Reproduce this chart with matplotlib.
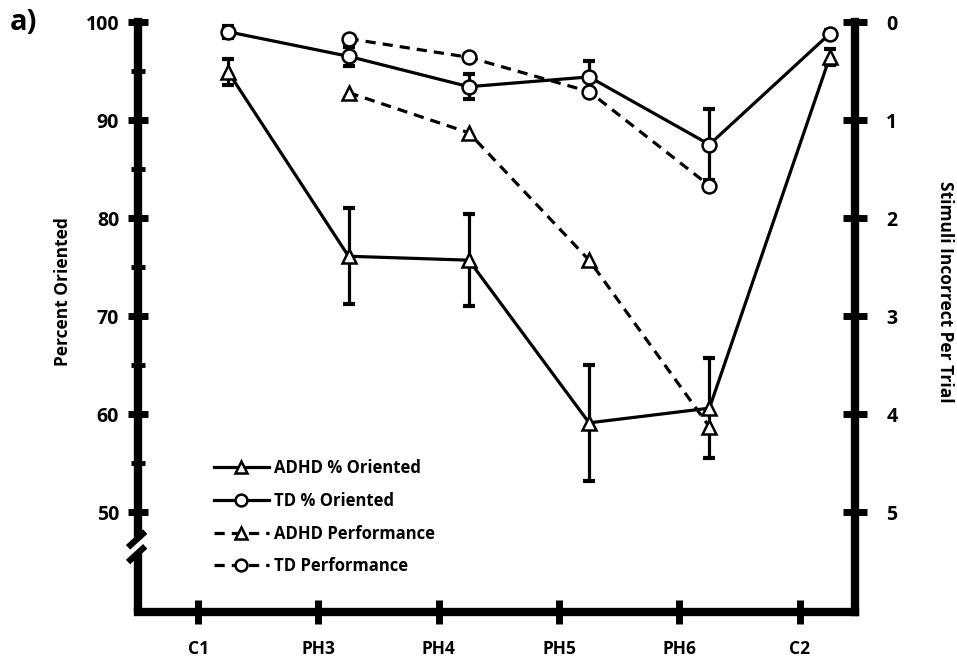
import matplotlib.pyplot as plt
from matplotlib.ticker import MultipleLocator

plt.rcParams['font.family'] = ['Open Sans', 'DejaVu Sans']
plt.rcParams['font.weight'] = 'bold'

# phases on the x axis
phases = ['C1', 'PH3', 'PH4', 'PH5', 'PH6', 'C2']
x_pos = list(range(len(phases)))
shift = 0.25  # points sit a bit right of each tick

# percent oriented (left axis)
adhd_orient = [94.9, 76.1, 75.7, 59.1, 60.6, 96.4]
adhd_orient_err = [1.3, 4.9, 4.7, 5.9, 5.1, 0.8]
td_orient = [99.0, 96.5, 93.4, 94.4, 87.5, 98.8]
td_orient_err = [0.6, 1.0, 1.3, 1.6, 3.6, 0.4]

# stimuli incorrect per trial (right axis), PH3..PH6 only
perf_x = [1, 2, 3, 4]
adhd_perf = [0.72, 1.13, 2.43, 4.13]
td_perf = [0.17, 0.36, 0.71, 1.67]

fig = plt.figure(figsize=(9.57, 6.63), dpi=100)
ax = fig.add_axes([0.1442, 0.0769, 0.7492, 0.8899])
ax2 = ax.twinx()

xs = [x + shift for x in x_pos]
pxs = [x_pos[i] + shift for i in perf_x]

mk = dict(markersize=10, markerfacecolor='white', markeredgecolor='black',
          markeredgewidth=1.8, color='black', lw=2.3)
eb = dict(fmt='none', ecolor='black', elinewidth=2.3, capsize=4, capthick=3)

ax.errorbar(xs, adhd_orient, yerr=adhd_orient_err, zorder=2, **eb)
ax.errorbar(xs, td_orient, yerr=td_orient_err, zorder=2, **eb)
l1, = ax.plot(xs, adhd_orient, marker='^', label='ADHD % Oriented', zorder=3, **mk)
l2, = ax.plot(xs, td_orient, marker='o', label='TD % Oriented', zorder=3, **mk)
l3, = ax2.plot(pxs, adhd_perf, marker='^', ls=(0, (3.2, 2.2)), label='ADHD Performance', **mk)
l4, = ax2.plot(pxs, td_perf, marker='o', ls=(0, (3.2, 2.2)), label='TD Performance', **mk)

ylo = 39.8
ax.set_xlim(-0.5, 5.46)
ax.set_ylim(ylo, 100)
ax2.set_ylim((100 - ylo) / 10, 0)

for a in (ax, ax2):
    a.spines['top'].set_visible(False)
    for s in a.spines.values():
        s.set_linewidth(6)
ax.spines['right'].set_visible(False)
ax2.spines['left'].set_visible(False)
ax2.spines['bottom'].set_visible(False)

# broken left axis
ax.spines['left'].set_bounds(47.7, 100)
ax.plot([-0.5, -0.5], [ylo, 45.8], color='black', lw=6, clip_on=False,
        solid_capstyle='butt')
for y0 in (46.4, 44.9):
    ax.plot([-0.583, -0.44], [y0, y0 + 1.6], color='black', lw=4.5,
            clip_on=False, solid_capstyle='butt')

ax.set_xticks(x_pos)
ax.set_xticklabels(phases)
ax.set_yticks([50, 60, 70, 80, 90, 100])
ax.yaxis.set_minor_locator(MultipleLocator(5))
ax.set_yticks([55, 65, 75, 85, 95], minor=True)
ax2.set_yticks([0, 1, 2, 3, 4, 5])

ax.tick_params(axis='x', direction='inout', length=17, width=5, pad=12, labelsize=12.5)
ax.tick_params(axis='y', which='major', direction='inout', length=15, width=5, pad=6, labelsize=14)
ax.tick_params(axis='y', which='minor', direction='inout', length=10, width=3.5)
ax2.tick_params(axis='y', direction='inout', length=17, width=5, pad=14, labelsize=14)
for lab in ax.get_xticklabels() + ax.get_yticklabels() + ax2.get_yticklabels():
    lab.set_fontweight('bold')

ax.set_ylabel('Percent Oriented', fontsize=12.5, fontweight='bold', va='center')
ax2.set_ylabel('Stimuli Incorrect Per Trial', fontsize=12.5, fontweight='bold',
               rotation=270, va='center')
ax.yaxis.set_label_coords(-0.1046, 0.5424)
ax2.yaxis.set_label_coords(1.1255, 0.5424)

fig.text(0.01, 0.966, 'a)', fontsize=21, fontweight='bold', va='center')

leg = ax2.legend(handles=[l1, l2, l3, l4], loc='lower left',
                 bbox_to_anchor=(0.085, 0.037), frameon=False, fontsize=12,
                 handlelength=3.3, handletextpad=0.3, labelspacing=0.88,
                 markerscale=0.85)
for t in leg.get_texts():
    t.set_fontweight('bold')

fig.savefig('out.png', dpi=100)
